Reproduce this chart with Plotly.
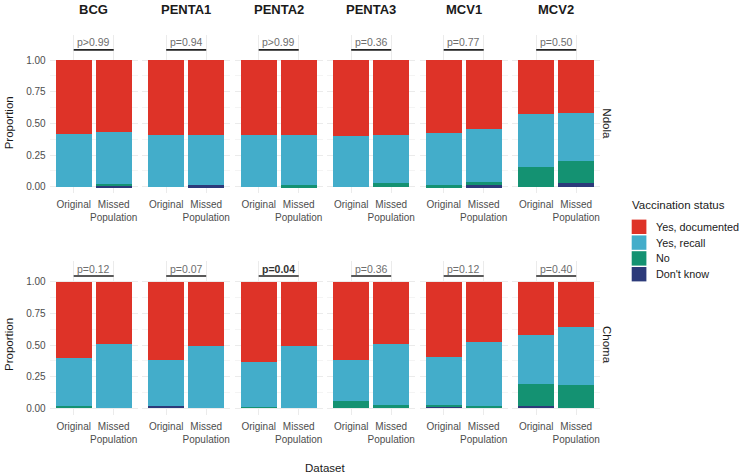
import plotly.graph_objects as go

# ---------------- data ----------------
vaccines = ["BCG", "PENTA1", "PENTA2", "PENTA3", "MCV1", "MCV2"]
sites = ["Ndola", "Choma"]
datasets = ["Original", "Missed<br>Population"]
statuses = ["Yes, documented", "Yes, recall", "No", "Don't know"]
status_colors = ["#DE3328", "#43ADCA", "#149272", "#2C3A7A"]

# values per vaccine: [Original, Missed Population] pairs flattened
ndola_documented = [0.584, 0.566, 0.592, 0.595, 0.595, 0.592, 0.600, 0.592, 0.576, 0.547, 0.426, 0.418]
ndola_recall     = [0.416, 0.414, 0.408, 0.393, 0.405, 0.396, 0.400, 0.379, 0.414, 0.416, 0.416, 0.382]
ndola_no         = [0.000, 0.010, 0.000, 0.000, 0.000, 0.012, 0.000, 0.029, 0.010, 0.024, 0.158, 0.171]
ndola_dontknow   = [0.000, 0.010, 0.000, 0.012, 0.000, 0.000, 0.000, 0.000, 0.000, 0.013, 0.000, 0.029]

choma_documented = [0.600, 0.495, 0.618, 0.505, 0.632, 0.505, 0.621, 0.495, 0.597, 0.476, 0.424, 0.358]
choma_recall     = [0.382, 0.505, 0.364, 0.495, 0.355, 0.495, 0.321, 0.479, 0.377, 0.506, 0.381, 0.458]
choma_no         = [0.013, 0.000, 0.000, 0.000, 0.013, 0.000, 0.058, 0.026, 0.013, 0.018, 0.177, 0.184]
choma_dontknow   = [0.005, 0.000, 0.018, 0.000, 0.000, 0.000, 0.000, 0.000, 0.013, 0.000, 0.018, 0.000]

ndola_p = ["p>0.99", "p=0.94", "p>0.99", "p=0.36", "p=0.77", "p=0.50"]
choma_p = ["p=0.12", "p=0.07", "p=0.04", "p=0.36", "p=0.12", "p=0.40"]
bold_p = {("Choma", "PENTA2")}

y_tickvals = [0, 0.25, 0.5, 0.75, 1.0]
y_ticktext = ["0.00", "0.25", "0.50", "0.75", "1.00"]

site_data = {
    "Ndola": [ndola_documented, ndola_recall, ndola_no, ndola_dontknow],
    "Choma": [choma_documented, choma_recall, choma_no, choma_dontknow],
}
site_p = {"Ndola": ndola_p, "Choma": choma_p}

# ---------------- layout geometry (pixels) ----------------
W, H = 746, 475
FONT = "Liberation Sans, Arial, sans-serif"


def px(x):
    return x / W


def py(y):
    return 1 - y / H


panel_left0 = 49.7
panel_w = 88.0
panel_pitch = 92.5
# rows: (pixel of y=0, pixel of y=1, y-range)
row_geom = [
    (186.7, 60.0, [-0.05, 1.20]),
    (408.3, 281.7, [-0.05, 1.16]),
]
pline_y = [1.08, 1.045]
ptext_y = [1.142, 1.103]

fig = go.Figure()
layout = dict(
    width=W, height=H,
    margin=dict(l=0, r=0, t=0, b=0, autoexpand=False),
    paper_bgcolor="white", plot_bgcolor="white",
    barmode="stack", showlegend=False,
    font=dict(family=FONT, color="#4D4D4D"),
)
annotations = []
shapes = []

for r, site in enumerate(sites):
    y0px, y1px, yr = row_geom[r]
    unit = y0px - y1px
    bottom_px = y0px - yr[0] * unit
    top_px = y0px - yr[1] * unit
    for c, vac in enumerate(vaccines):
        n = r * 6 + c + 1
        xa = "x" if n == 1 else f"x{n}"
        ya = "y" if n == 1 else f"y{n}"
        left = panel_left0 + c * panel_pitch
        layout["xaxis" if n == 1 else f"xaxis{n}"] = dict(
            domain=[px(left), px(left + panel_w)],
            anchor=ya, range=[0.4, 2.6],
            tickvals=[1, 2], ticktext=datasets, tickangle=0,
            ticklabelstandoff=4,
            showgrid=True, gridcolor="#EBEBEB", gridwidth=1,
            zeroline=False, showline=False, ticks="",
            tickfont=dict(size=10, color="#4D4D4D", family=FONT),
            automargin=False, fixedrange=True,
        )
        layout["yaxis" if n == 1 else f"yaxis{n}"] = dict(
            domain=[py(bottom_px), py(top_px)],
            anchor=xa, range=yr,
            tickvals=y_tickvals, ticktext=y_ticktext,
            showticklabels=(c == 0), ticklabelstandoff=3,
            showgrid=True, gridcolor="#EBEBEB", gridwidth=1,
            minor=dict(tickvals=[0.125, 0.375, 0.625, 0.875], showgrid=True,
                       gridcolor="#F4F4F4", gridwidth=0.6),
            zeroline=False, showline=False, ticks="",
            tickfont=dict(size=10, color="#4D4D4D", family=FONT),
            automargin=False, fixedrange=True,
        )
        vals = site_data[site]
        # stack from bottom: Don't know, No, Yes recall, Yes documented
        for s in [3, 2, 1, 0]:
            fig.add_trace(go.Bar(
                x=[1, 2], y=vals[s][2 * c:2 * c + 2],
                marker=dict(color=status_colors[s], line=dict(width=0)),
                width=0.9, name=statuses[s], xaxis=xa, yaxis=ya,
                showlegend=False, hoverinfo="skip",
            ))
        # p-value bracket
        shapes.append(dict(type="line", xref=xa, yref=ya, x0=1, x1=2,
                           y0=pline_y[r], y1=pline_y[r],
                           line=dict(color="#222222", width=1.6)))
        is_bold = (site, vac) in bold_p
        ptxt = site_p[site][c]
        annotations.append(dict(
            xref=xa, yref=ya, x=1.5, y=ptext_y[r], showarrow=False,
            text=f"<b>{ptxt}</b>" if is_bold else ptxt,
            font=dict(size=10.5, family=FONT, color="#333333" if is_bold else "#6E6E6E"),
            xanchor="center", yanchor="middle",
        ))
        if r == 0:
            annotations.append(dict(
                xref="paper", yref="paper", x=px(left + panel_w / 2), y=py(9.5),
                text=f"<b>{vac}</b>", showarrow=False,
                font=dict(size=13, family=FONT, color="#1A1A1A"),
                xanchor="center", yanchor="middle",
            ))
    # strip label on the right
    annotations.append(dict(
        xref="paper", yref="paper", x=px(607), y=py((y0px + y1px) / 2),
        text=site, textangle=90, showarrow=False,
        font=dict(size=11.5, family=FONT, color="#1A1A1A"),
        xanchor="center", yanchor="middle",
    ))
    # y axis title
    annotations.append(dict(
        xref="paper", yref="paper", x=px(9), y=py((y0px + y1px) / 2),
        text="Proportion", textangle=-90, showarrow=False,
        font=dict(size=11.5, family=FONT, color="#1A1A1A"),
        xanchor="center", yanchor="middle",
    ))

# x axis title
annotations.append(dict(
    xref="paper", yref="paper", x=px(325), y=py(468),
    text="Dataset", showarrow=False,
    font=dict(size=11.5, family=FONT, color="#1A1A1A"),
    xanchor="center", yanchor="middle",
))

# manual legend
annotations.append(dict(
    xref="paper", yref="paper", x=px(630), y=py(205),
    text="Vaccination status", showarrow=False,
    font=dict(size=11.5, family=FONT, color="#1A1A1A"),
    xanchor="left", yanchor="middle",
))
leg_centers = [226.8, 242.6, 258.4, 274.2]
for i, s in enumerate(statuses):
    cy = leg_centers[i]
    shapes.append(dict(type="rect", xref="paper", yref="paper",
                       x0=px(631.7), x1=px(646.4), y0=py(cy + 7.2), y1=py(cy - 7.2),
                       fillcolor=status_colors[i], line=dict(width=0)))
    annotations.append(dict(
        xref="paper", yref="paper", x=px(653.5), y=py(cy),
        text=s, showarrow=False,
        font=dict(size=10.8, family=FONT, color="#1A1A1A"),
        xanchor="left", yanchor="middle",
    ))

layout["annotations"] = annotations
layout["shapes"] = shapes
fig.update_layout(**layout)
fig.write_html(
    "out.html",
    config={"displayModeBar": False},
    post_script="document.body.style.margin='0';document.body.style.overflow='hidden';",
)
